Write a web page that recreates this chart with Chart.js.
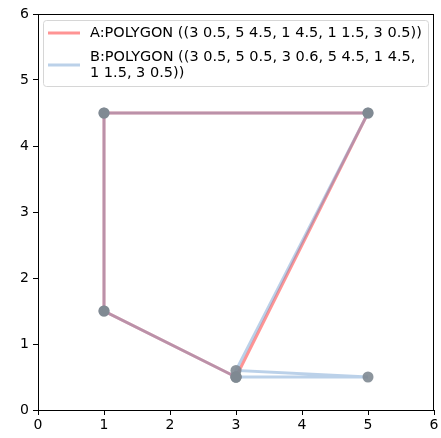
<!DOCTYPE html>
<html><head><meta charset="utf-8">
<script src="https://cdn.jsdelivr.net/npm/chart.js@4"></script>
<style>html,body{margin:0;padding:0;background:#fff}#wrap{width:441px;height:438px}</style>
</head><body><div id="wrap"><canvas id="c" width="441" height="438"></canvas></div>
<script>
const labelA = "A:POLYGON ((3 0.5, 5 4.5, 1 4.5, 1 1.5, 3 0.5))";
const labelB = "B:POLYGON ((3 0.5, 5 0.5, 3 0.6, 5 4.5, 1 4.5, 1 1.5, 3 0.5))";
const legendLinesA = ["A:POLYGON ((3 0.5, 5 4.5, 1 4.5, 1 1.5, 3 0.5))"];
const legendLinesB = ["B:POLYGON ((3 0.5, 5 0.5, 3 0.6, 5 4.5, 1 4.5,", "1 1.5, 3 0.5))"];
const polyAx = [3, 5, 1, 1, 3];
const polyAy = [0.5, 4.5, 4.5, 1.5, 0.5];
const polyBx = [3, 5, 3, 5, 1, 1, 3];
const polyBy = [0.5, 0.5, 0.6, 4.5, 4.5, 1.5, 0.5];
const tickValues = [0, 1, 2, 3, 4, 5, 6];

const colA = 'rgba(255,0,0,0.42)';
const colB = 'rgba(85,140,200,0.4)';
const ptCol = 'rgba(128,138,146,0.9)';
const FONT = "'DejaVu Sans'";

const toPts = (xs, ys) => xs.map((x, i) => ({x, y: ys[i]}));

const legendPlugin = {
  id: 'inLegend',
  afterDraw(chart) {
    const ctx = chart.ctx, a = chart.chartArea;
    ctx.save();
    // axes frame
    ctx.strokeStyle = '#000'; ctx.lineWidth = 1;
    ctx.strokeRect(Math.round(a.left) + 0.5, Math.round(a.top) + 0.5, Math.round(a.right - a.left) - 1, Math.round(a.bottom - a.top));
    // legend box
    const x0 = 43, y0 = 20, w = 385, h = 66;
    ctx.fillStyle = 'rgba(255,255,255,0.8)';
    ctx.strokeStyle = '#d6d6d6';
    ctx.lineWidth = 1;
    ctx.beginPath();
    if (ctx.roundRect) ctx.roundRect(x0 + 0.5, y0 + 0.5, w, h, 3); else ctx.rect(x0 + 0.5, y0 + 0.5, w, h);
    ctx.fill(); ctx.stroke();
    ctx.font = '14.5px ' + FONT;
    ctx.fillStyle = '#000';
    ctx.textBaseline = 'middle';
    ctx.lineWidth = 3;
    ctx.strokeStyle = colA;
    ctx.beginPath(); ctx.moveTo(48, 33); ctx.lineTo(80, 33); ctx.stroke();
    legendLinesA.forEach((t, i) => ctx.fillText(t, 90, 33 + i * 16));
    ctx.strokeStyle = colB;
    ctx.beginPath(); ctx.moveTo(48, 65); ctx.lineTo(80, 65); ctx.stroke();
    legendLinesB.forEach((t, i) => ctx.fillText(t, 90, 57 + i * 16));
    ctx.restore();
  }
};

new Chart(document.getElementById('c'), {
  type: 'scatter',
  data: {
    datasets: [
      {label: labelA, data: toPts(polyAx, polyAy), showLine: true, borderColor: colA, borderWidth: 3,
       pointRadius: 0, fill: false, tension: 0, order: 2},
      {label: labelB, data: toPts(polyBx, polyBy), showLine: true, borderColor: colB, borderWidth: 3,
       pointRadius: 0, fill: false, tension: 0, order: 1},
      {label: 'pts', data: toPts(polyBx.concat(polyAx), polyBy.concat(polyAy)), showLine: false,
       pointRadius: 5.5, pointBackgroundColor: ptCol, pointBorderWidth: 0, borderColor: ptCol, order: 0}
    ]
  },
  options: {
    responsive: false, animation: false, devicePixelRatio: 1,
    layout: {padding: {top: 14, right: 7, left: 0, bottom: 0}},
    plugins: {legend: {display: false}, tooltip: {enabled: false}},
    scales: {
      x: {type: 'linear', min: 0, max: 6,
          afterBuildTicks: s => { s.ticks = tickValues.map(v => ({value: v})); },
          afterFit: s => { s.height = 28; },
          grid: {display: true, drawOnChartArea: false, drawTicks: true, tickLength: 5, color: '#000'},
          border: {display: true, color: '#000', width: 1},
          ticks: {color: '#000', font: {family: FONT, size: 14}, padding: 2, maxRotation: 0}},
      y: {type: 'linear', min: 0, max: 6,
          afterBuildTicks: s => { s.ticks = tickValues.map(v => ({value: v})); },
          afterFit: s => { s.width = 38; },
          grid: {display: true, drawOnChartArea: false, drawTicks: true, tickLength: 5, color: '#000'},
          border: {display: true, color: '#000', width: 1},
          ticks: {color: '#000', font: {family: FONT, size: 14}, padding: 4}}
    }
  },
  plugins: [legendPlugin]
});
</script></body></html>
